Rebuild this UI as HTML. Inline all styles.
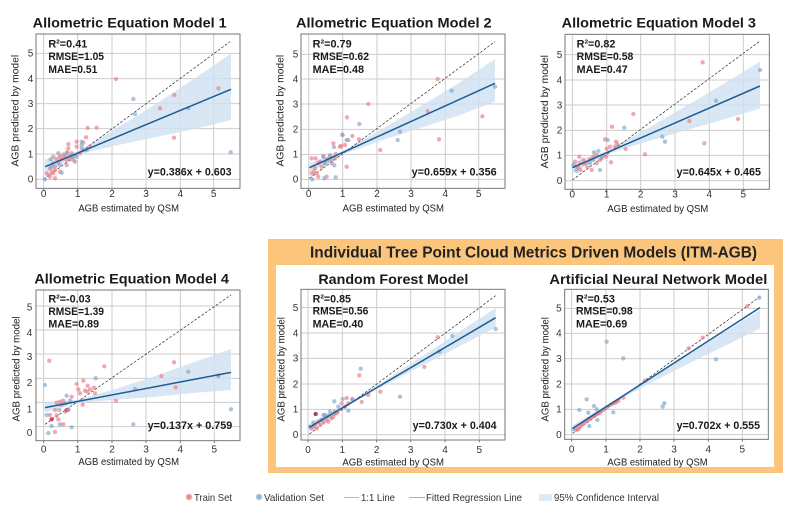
<!DOCTYPE html>
<html><head><meta charset="utf-8"><style>
html,body{margin:0;padding:0;background:#fff;}
svg{display:block;}
text{font-family:"Liberation Sans",Arial,sans-serif;}
.t{font-size:42px;font-weight:bold;fill:#1a1a1a;}
.s{font-size:33px;font-weight:bold;fill:#1a1a1a;}
.k{font-size:30px;fill:#333;}
.a{font-size:29px;fill:#222;}
.g line{stroke:#cdcdcd;stroke-width:3;}
.r circle{fill:#eb7f8a;fill-opacity:.68;}
.b circle{fill:#7eaad0;fill-opacity:.68;}
.box{fill:none;stroke:#777;stroke-width:3;}
.band{fill:#cfe1f2;fill-opacity:.8;}
.one{stroke:#222;stroke-width:2;stroke-dasharray:8,5;}
.reg{stroke:#1c5d94;stroke-width:4.5;}
.tk line{stroke:#777;stroke-width:3;}
.lg{font-size:10.5px;fill:#333;}
</style></head><body>
<svg width="800" height="515" viewBox="0 0 800 515" xmlns="http://www.w3.org/2000/svg">
<rect x="0" y="0" width="800" height="515" fill="#fff"/>

<!-- orange box -->
<rect x="268" y="239" width="515" height="234" fill="#fcc57c"/>
<rect x="276" y="265" width="498" height="202" fill="#fff"/>
<text x="310" y="257.5" font-size="15.5" font-weight="bold" fill="#222" textLength="447" lengthAdjust="spacingAndGlyphs">Individual Tree Point Cloud Metrics Driven Models (ITM-AGB)</text>

<!-- ============ PANEL 1 ============ -->
<g transform="translate(0,0) scale(0.333333)">
<rect x="108" y="102" width="612" height="463" fill="#fff"/>
<g class="g">
<line x1="131" y1="102" x2="131" y2="565"/><line x1="233" y1="102" x2="233" y2="565"/><line x1="336" y1="102" x2="336" y2="565"/><line x1="438" y1="102" x2="438" y2="565"/><line x1="541" y1="102" x2="541" y2="565"/><line x1="641" y1="102" x2="641" y2="565"/>
<line x1="108" y1="538" x2="720" y2="538"/><line x1="108" y1="462" x2="720" y2="462"/><line x1="108" y1="386" x2="720" y2="386"/><line x1="108" y1="311" x2="720" y2="311"/><line x1="108" y1="236" x2="720" y2="236"/><line x1="108" y1="160" x2="720" y2="160"/>
</g>
<polygon class="band" points="135,478 233,454 350,385 460,316 580,238 693,160 693,360 580,388 460,413 350,436 233,464 135,522"/>
<line class="one" x1="131" y1="538" x2="690" y2="125"/>
<g class="r">
<circle cx="348" cy="237" r="6.5"/><circle cx="523" cy="285" r="6.5"/><circle cx="480" cy="325" r="6.5"/><circle cx="655" cy="265" r="6.5"/><circle cx="522" cy="413" r="6.5"/><circle cx="263" cy="384" r="6.5"/><circle cx="290" cy="383" r="6.5"/><circle cx="258" cy="412" r="6.5"/><circle cx="230" cy="425" r="6.5"/><circle cx="250" cy="428" r="6.5"/><circle cx="230" cy="440" r="6.5"/><circle cx="205" cy="432" r="6.5"/><circle cx="240" cy="460" r="6.5"/><circle cx="202" cy="456" r="6.5"/><circle cx="190" cy="464" r="6.5"/><circle cx="180" cy="470" r="6.5"/><circle cx="160" cy="470" r="6.5"/><circle cx="170" cy="478" r="6.5"/><circle cx="150" cy="505" r="6.5"/><circle cx="155" cy="515" r="6.5"/><circle cx="160" cy="520" r="6.5"/><circle cx="165" cy="510" r="6.5"/><circle cx="145" cy="525" r="6.5"/><circle cx="150" cy="530" r="6.5"/><circle cx="165" cy="535" r="6.5"/><circle cx="140" cy="520" r="6.5"/><circle cx="175" cy="488" r="6.5"/><circle cx="185" cy="478" r="6.5"/><circle cx="200" cy="495" r="6.5"/><circle cx="210" cy="478" r="6.5"/><circle cx="220" cy="470" r="6.5"/><circle cx="215" cy="460" r="6.5"/><circle cx="225" cy="485" r="6.5"/><circle cx="180" cy="515" r="6.5"/><circle cx="165" cy="500" r="6.5"/><circle cx="195" cy="470" r="6.5"/><circle cx="205" cy="445" r="6.5"/><circle cx="200" cy="480" r="6.5"/><circle cx="270" cy="440" r="6.5"/><circle cx="245" cy="445" r="6.5"/>
</g>
<g class="b">
<circle cx="400" cy="297" r="6.5"/><circle cx="405" cy="342" r="6.5"/><circle cx="565" cy="325" r="6.5"/><circle cx="692" cy="457" r="6.5"/><circle cx="175" cy="460" r="6.5"/><circle cx="152" cy="478" r="6.5"/><circle cx="245" cy="435" r="6.5"/><circle cx="250" cy="450" r="6.5"/><circle cx="230" cy="470" r="6.5"/><circle cx="220" cy="480" r="6.5"/><circle cx="180" cy="495" r="6.5"/><circle cx="185" cy="518" r="6.5"/><circle cx="135" cy="538" r="6.5"/><circle cx="155" cy="500" r="6.5"/><circle cx="160" cy="490" r="6.5"/><circle cx="200" cy="460" r="6.5"/><circle cx="210" cy="468" r="6.5"/><circle cx="260" cy="450" r="6.5"/><circle cx="245" cy="425" r="6.5"/>
</g>
<line class="reg" x1="135" y1="500" x2="693" y2="268"/>
<rect class="box" x="108" y="102" width="612" height="463"/>
<g class="tk"><line x1="131" y1="565" x2="131" y2="572"/><line x1="233" y1="565" x2="233" y2="572"/><line x1="336" y1="565" x2="336" y2="572"/><line x1="438" y1="565" x2="438" y2="572"/><line x1="541" y1="565" x2="541" y2="572"/><line x1="641" y1="565" x2="641" y2="572"/></g>
<text class="t" x="98" y="83" textLength="582" lengthAdjust="spacingAndGlyphs">Allometric Equation Model 1</text>
<text class="s" x="145" y="142" textLength="117" lengthAdjust="spacingAndGlyphs">R²=0.41</text>
<text class="s" x="145" y="180" textLength="167" lengthAdjust="spacingAndGlyphs">RMSE=1.05</text>
<text class="s" x="145" y="219" textLength="147" lengthAdjust="spacingAndGlyphs">MAE=0.51</text>
<text class="s" x="443" y="527" textLength="252" lengthAdjust="spacingAndGlyphs">y=0.386x + 0.603</text>
<g class="k" text-anchor="middle"><text x="131" y="591">0</text><text x="233" y="591">1</text><text x="336" y="591">2</text><text x="438" y="591">3</text><text x="541" y="591">4</text><text x="641" y="591">5</text></g>
<g class="k" text-anchor="end"><text x="100" y="548">0</text><text x="100" y="472">1</text><text x="100" y="396">2</text><text x="100" y="321">3</text><text x="100" y="246">4</text><text x="100" y="170">5</text></g>
<text class="a" x="235" y="635" textLength="302" lengthAdjust="spacingAndGlyphs">AGB estimated by QSM</text>
<text class="a" x="56" y="332" text-anchor="middle" transform="rotate(-90 56 332)" textLength="335" lengthAdjust="spacingAndGlyphs">AGB predicted by model</text>
</g>

<!-- ============ PANEL 2 ============ -->
<g transform="translate(265,0) scale(0.333333)">
<rect x="108" y="102" width="612" height="463" fill="#fff"/>
<g class="g">
<line x1="131" y1="102" x2="131" y2="565"/><line x1="233" y1="102" x2="233" y2="565"/><line x1="336" y1="102" x2="336" y2="565"/><line x1="438" y1="102" x2="438" y2="565"/><line x1="541" y1="102" x2="541" y2="565"/><line x1="641" y1="102" x2="641" y2="565"/>
<line x1="108" y1="538" x2="720" y2="538"/><line x1="108" y1="463" x2="720" y2="463"/><line x1="108" y1="388" x2="720" y2="388"/><line x1="108" y1="312" x2="720" y2="312"/><line x1="108" y1="237" x2="720" y2="237"/><line x1="108" y1="163" x2="720" y2="163"/>
</g>
<polygon class="band" points="133,489 233,453 350,388 460,323 580,250 690,177 690,305 580,347 460,386 350,421 233,463 133,517"/>
<line class="one" x1="133" y1="535" x2="690" y2="125"/>
<g class="r">
<circle cx="518" cy="237" r="6.5"/><circle cx="310" cy="312" r="6.5"/><circle cx="246" cy="352" r="6.5"/><circle cx="488" cy="334" r="6.5"/><circle cx="522" cy="418" r="6.5"/><circle cx="652" cy="349" r="6.5"/><circle cx="346" cy="450" r="6.5"/><circle cx="232" cy="404" r="6.5"/><circle cx="262" cy="408" r="6.5"/><circle cx="282" cy="418" r="6.5"/><circle cx="245" cy="420" r="6.5"/><circle cx="240" cy="435" r="6.5"/><circle cx="228" cy="438" r="6.5"/><circle cx="205" cy="430" r="6.5"/><circle cx="212" cy="462" r="6.5"/><circle cx="195" cy="470" r="6.5"/><circle cx="185" cy="478" r="6.5"/><circle cx="175" cy="468" r="6.5"/><circle cx="160" cy="490" r="6.5"/><circle cx="150" cy="505" r="6.5"/><circle cx="147" cy="515" r="6.5"/><circle cx="155" cy="520" r="6.5"/><circle cx="140" cy="475" r="6.5"/><circle cx="152" cy="475" r="6.5"/><circle cx="165" cy="485" r="6.5"/><circle cx="170" cy="500" r="6.5"/><circle cx="160" cy="530" r="6.5"/><circle cx="185" cy="530" r="6.5"/><circle cx="245" cy="500" r="6.5"/><circle cx="140" cy="520" r="6.5"/><circle cx="200" cy="490" r="6.5"/><circle cx="210" cy="475" r="6.5"/><circle cx="180" cy="490" r="6.5"/><circle cx="225" cy="440" r="6.5"/>
</g>
<g class="b">
<circle cx="283" cy="372" r="6.5"/><circle cx="560" cy="272" r="6.5"/><circle cx="690" cy="260" r="6.5"/><circle cx="405" cy="395" r="6.5"/><circle cx="398" cy="420" r="6.5"/><circle cx="233" cy="405" r="6.5"/><circle cx="207" cy="441" r="6.5"/><circle cx="195" cy="465" r="6.5"/><circle cx="208" cy="496" r="6.5"/><circle cx="212" cy="532" r="6.5"/><circle cx="178" cy="535" r="6.5"/><circle cx="142" cy="538" r="6.5"/><circle cx="175" cy="470" r="6.5"/><circle cx="180" cy="490" r="6.5"/><circle cx="190" cy="482" r="6.5"/><circle cx="200" cy="480" r="6.5"/><circle cx="250" cy="420" r="6.5"/>
</g>
<line class="reg" x1="133" y1="503" x2="690" y2="250"/>
<rect class="box" x="108" y="102" width="612" height="463"/>
<g class="tk"><line x1="131" y1="565" x2="131" y2="572"/><line x1="233" y1="565" x2="233" y2="572"/><line x1="336" y1="565" x2="336" y2="572"/><line x1="438" y1="565" x2="438" y2="572"/><line x1="541" y1="565" x2="541" y2="572"/><line x1="641" y1="565" x2="641" y2="572"/></g>
<text class="t" x="93" y="83" textLength="587" lengthAdjust="spacingAndGlyphs">Allometric Equation Model 2</text>
<text class="s" x="143" y="142" textLength="117" lengthAdjust="spacingAndGlyphs">R²=0.79</text>
<text class="s" x="143" y="180" textLength="169" lengthAdjust="spacingAndGlyphs">RMSE=0.62</text>
<text class="s" x="143" y="219" textLength="154" lengthAdjust="spacingAndGlyphs">MAE=0.48</text>
<text class="s" x="440" y="527" textLength="255" lengthAdjust="spacingAndGlyphs">y=0.659x + 0.356</text>
<g class="k" text-anchor="middle"><text x="131" y="591">0</text><text x="233" y="591">1</text><text x="336" y="591">2</text><text x="438" y="591">3</text><text x="541" y="591">4</text><text x="641" y="591">5</text></g>
<g class="k" text-anchor="end"><text x="100" y="548">0</text><text x="100" y="473">1</text><text x="100" y="398">2</text><text x="100" y="322">3</text><text x="100" y="247">4</text><text x="100" y="173">5</text></g>
<text class="a" x="233" y="635" textLength="304" lengthAdjust="spacingAndGlyphs">AGB estimated by QSM</text>
<text class="a" x="56" y="332" text-anchor="middle" transform="rotate(-90 56 332)" textLength="335" lengthAdjust="spacingAndGlyphs">AGB predicted by model</text>
</g>

<!-- ============ PANEL 3 ============ -->
<g transform="translate(530,0) scale(0.333333)">
<rect x="105" y="103" width="613" height="465" fill="#fff"/>
<g class="g">
<line x1="127" y1="103" x2="127" y2="568"/><line x1="230" y1="103" x2="230" y2="568"/><line x1="332" y1="103" x2="332" y2="568"/><line x1="435" y1="103" x2="435" y2="568"/><line x1="538" y1="103" x2="538" y2="568"/><line x1="640" y1="103" x2="640" y2="568"/>
<line x1="105" y1="542" x2="718" y2="542"/><line x1="105" y1="466" x2="718" y2="466"/><line x1="105" y1="391" x2="718" y2="391"/><line x1="105" y1="315" x2="718" y2="315"/><line x1="105" y1="240" x2="718" y2="240"/><line x1="105" y1="164" x2="718" y2="164"/>
</g>
<polygon class="band" points="127,487 230,453 350,387 460,323 580,252 690,185 690,326 580,359 460,393 350,425 230,463 127,520"/>
<line class="one" x1="127" y1="540" x2="690" y2="123"/>
<g class="r">
<circle cx="518" cy="187" r="6.5"/><circle cx="310" cy="342" r="6.5"/><circle cx="246" cy="380" r="6.5"/><circle cx="624" cy="357" r="6.5"/><circle cx="478" cy="363" r="6.5"/><circle cx="523" cy="430" r="6.5"/><circle cx="345" cy="463" r="6.5"/><circle cx="243" cy="487" r="6.5"/><circle cx="287" cy="447" r="6.5"/><circle cx="262" cy="432" r="6.5"/><circle cx="258" cy="425" r="6.5"/><circle cx="255" cy="440" r="6.5"/><circle cx="240" cy="440" r="6.5"/><circle cx="225" cy="418" r="6.5"/><circle cx="230" cy="446" r="6.5"/><circle cx="228" cy="470" r="6.5"/><circle cx="210" cy="480" r="6.5"/><circle cx="200" cy="465" r="6.5"/><circle cx="190" cy="470" r="6.5"/><circle cx="180" cy="478" r="6.5"/><circle cx="168" cy="488" r="6.5"/><circle cx="160" cy="480" r="6.5"/><circle cx="150" cy="490" r="6.5"/><circle cx="145" cy="503" r="6.5"/><circle cx="152" cy="510" r="6.5"/><circle cx="140" cy="500" r="6.5"/><circle cx="135" cy="485" r="6.5"/><circle cx="148" cy="470" r="6.5"/><circle cx="172" cy="502" r="6.5"/><circle cx="185" cy="510" r="6.5"/><circle cx="200" cy="490" r="6.5"/><circle cx="218" cy="468" r="6.5"/><circle cx="162" cy="492" r="6.5"/>
</g>
<g class="b">
<circle cx="690" cy="210" r="6.5"/><circle cx="558" cy="302" r="6.5"/><circle cx="397" cy="410" r="6.5"/><circle cx="405" cy="425" r="6.5"/><circle cx="283" cy="383" r="6.5"/><circle cx="233" cy="420" r="6.5"/><circle cx="205" cy="453" r="6.5"/><circle cx="210" cy="510" r="6.5"/><circle cx="192" cy="457" r="6.5"/><circle cx="140" cy="512" r="6.5"/><circle cx="130" cy="495" r="6.5"/><circle cx="180" cy="490" r="6.5"/><circle cx="190" cy="480" r="6.5"/><circle cx="215" cy="475" r="6.5"/>
</g>
<line class="reg" x1="127" y1="503" x2="690" y2="258"/>
<rect class="box" x="105" y="103" width="613" height="465"/>
<g class="tk"><line x1="127" y1="568" x2="127" y2="575"/><line x1="230" y1="568" x2="230" y2="575"/><line x1="332" y1="568" x2="332" y2="575"/><line x1="435" y1="568" x2="435" y2="575"/><line x1="538" y1="568" x2="538" y2="575"/><line x1="640" y1="568" x2="640" y2="575"/></g>
<text class="t" x="95" y="83" textLength="583" lengthAdjust="spacingAndGlyphs">Allometric Equation Model 3</text>
<text class="s" x="140" y="142" textLength="116" lengthAdjust="spacingAndGlyphs">R²=0.82</text>
<text class="s" x="140" y="180" textLength="170" lengthAdjust="spacingAndGlyphs">RMSE=0.58</text>
<text class="s" x="140" y="219" textLength="153" lengthAdjust="spacingAndGlyphs">MAE=0.47</text>
<text class="s" x="440" y="527" textLength="253" lengthAdjust="spacingAndGlyphs">y=0.645x + 0.465</text>
<g class="k" text-anchor="middle"><text x="127" y="593">0</text><text x="230" y="593">1</text><text x="332" y="593">2</text><text x="435" y="593">3</text><text x="538" y="593">4</text><text x="640" y="593">5</text></g>
<g class="k" text-anchor="end"><text x="97" y="552">0</text><text x="97" y="476">1</text><text x="97" y="401">2</text><text x="97" y="325">3</text><text x="97" y="250">4</text><text x="97" y="174">5</text></g>
<text class="a" x="232" y="636" textLength="303" lengthAdjust="spacingAndGlyphs">AGB estimated by QSM</text>
<text class="a" x="54" y="335" text-anchor="middle" transform="rotate(-90 54 335)" textLength="340" lengthAdjust="spacingAndGlyphs">AGB predicted by model</text>
</g>

<!-- ============ PANEL 4 ============ -->
<g transform="translate(0,230) scale(0.333333)">
<rect x="108" y="180" width="612" height="452" fill="#fff"/>
<g class="g">
<line x1="131" y1="180" x2="131" y2="632"/><line x1="233" y1="180" x2="233" y2="632"/><line x1="336" y1="180" x2="336" y2="632"/><line x1="438" y1="180" x2="438" y2="632"/><line x1="541" y1="180" x2="541" y2="632"/><line x1="643" y1="180" x2="643" y2="632"/>
<line x1="108" y1="590" x2="720" y2="590"/><line x1="108" y1="517" x2="720" y2="517"/><line x1="108" y1="445" x2="720" y2="445"/><line x1="108" y1="372" x2="720" y2="372"/><line x1="108" y1="300" x2="720" y2="300"/><line x1="108" y1="228" x2="720" y2="228"/>
</g>
<polygon class="band" points="135,519 233,509 350,476 460,440 580,397 693,357 693,480 580,489 460,501 350,509 233,519 135,547"/>
<line class="one" x1="135" y1="583" x2="693" y2="195"/>
<g class="r">
<circle cx="148" cy="392" r="6.5"/><circle cx="313" cy="409" r="6.5"/><circle cx="522" cy="397" r="6.5"/><circle cx="484" cy="438" r="6.5"/><circle cx="527" cy="472" r="6.5"/><circle cx="655" cy="437" r="6.5"/><circle cx="348" cy="512" r="6.5"/><circle cx="230" cy="462" r="6.5"/><circle cx="263" cy="467" r="6.5"/><circle cx="250" cy="452" r="6.5"/><circle cx="282" cy="473" r="6.5"/><circle cx="235" cy="478" r="6.5"/><circle cx="240" cy="490" r="6.5"/><circle cx="262" cy="485" r="6.5"/><circle cx="285" cy="490" r="6.5"/><circle cx="248" cy="524" r="6.5"/><circle cx="205" cy="538" r="6.5"/><circle cx="196" cy="545" r="6.5"/><circle cx="180" cy="515" r="6.5"/><circle cx="190" cy="512" r="6.5"/><circle cx="170" cy="518" r="6.5"/><circle cx="185" cy="525" r="6.5"/><circle cx="165" cy="540" r="6.5"/><circle cx="170" cy="556" r="6.5"/><circle cx="150" cy="555" r="6.5"/><circle cx="155" cy="568" r="6.5" style="fill:#d42a45;fill-opacity:.85"/><circle cx="165" cy="606" r="6.5"/><circle cx="190" cy="583" r="6.5"/><circle cx="175" cy="568" r="6.5"/><circle cx="215" cy="500" r="6.5"/><circle cx="255" cy="482" r="6.5"/><circle cx="270" cy="478" r="6.5"/><circle cx="200" cy="540" r="6.5" style="fill:#d42a45;fill-opacity:.75"/>
</g>
<g class="b">
<circle cx="287" cy="445" r="6.5"/><circle cx="405" cy="477" r="6.5"/><circle cx="565" cy="425" r="6.5"/><circle cx="693" cy="538" r="6.5"/><circle cx="135" cy="465" r="6.5"/><circle cx="400" cy="583" r="6.5"/><circle cx="145" cy="609" r="6.5"/><circle cx="155" cy="588" r="6.5"/><circle cx="215" cy="592" r="6.5"/><circle cx="180" cy="583" r="6.5"/><circle cx="200" cy="497" r="6.5"/><circle cx="210" cy="512" r="6.5"/><circle cx="195" cy="520" r="6.5"/><circle cx="178" cy="540" r="6.5"/><circle cx="140" cy="555" r="6.5"/><circle cx="205" cy="540" r="6.5"/><circle cx="655" cy="437" r="6.5"/>
</g>
<line class="reg" x1="135" y1="533" x2="693" y2="427"/>
<rect class="box" x="108" y="180" width="612" height="452"/>
<g class="tk"><line x1="131" y1="632" x2="131" y2="639"/><line x1="233" y1="632" x2="233" y2="639"/><line x1="336" y1="632" x2="336" y2="639"/><line x1="438" y1="632" x2="438" y2="639"/><line x1="541" y1="632" x2="541" y2="639"/><line x1="643" y1="632" x2="643" y2="639"/></g>
<text class="t" x="103" y="161" textLength="584" lengthAdjust="spacingAndGlyphs">Allometric Equation Model 4</text>
<text class="s" x="145" y="217" textLength="127" lengthAdjust="spacingAndGlyphs">R²=-0.03</text>
<text class="s" x="145" y="255" textLength="167" lengthAdjust="spacingAndGlyphs">RMSE=1.39</text>
<text class="s" x="145" y="292" textLength="152" lengthAdjust="spacingAndGlyphs">MAE=0.89</text>
<text class="s" x="443" y="597" textLength="254" lengthAdjust="spacingAndGlyphs">y=0.137x + 0.759</text>
<g class="k" text-anchor="middle"><text x="131" y="668">0</text><text x="233" y="668">1</text><text x="336" y="668">2</text><text x="438" y="668">3</text><text x="541" y="668">4</text><text x="643" y="668">5</text></g>
<g class="k" text-anchor="end"><text x="97" y="618">0</text><text x="97" y="547">1</text><text x="97" y="468">2</text><text x="97" y="390">3</text><text x="97" y="318">4</text><text x="97" y="242">5</text></g>
<text class="a" x="235" y="705" textLength="302" lengthAdjust="spacingAndGlyphs">AGB estimated by QSM</text>
<text class="a" x="58" y="417" text-anchor="middle" transform="rotate(-90 58 417)" textLength="315" lengthAdjust="spacingAndGlyphs">AGB predicted by model</text>
</g>

<!-- ============ PANEL 5 ============ -->
<g transform="translate(265,230) scale(0.333333)">
<rect x="108" y="178" width="612" height="452" fill="#fff"/>
<g class="g">
<line x1="129" y1="178" x2="129" y2="630"/><line x1="232" y1="178" x2="232" y2="630"/><line x1="335" y1="178" x2="335" y2="630"/><line x1="437" y1="178" x2="437" y2="630"/><line x1="540" y1="178" x2="540" y2="630"/><line x1="643" y1="178" x2="643" y2="630"/>
<line x1="108" y1="614" x2="720" y2="614"/><line x1="108" y1="538" x2="720" y2="538"/><line x1="108" y1="462" x2="720" y2="462"/><line x1="108" y1="385" x2="720" y2="385"/><line x1="108" y1="309" x2="720" y2="309"/><line x1="108" y1="233" x2="720" y2="233"/>
</g>
<polygon class="band" points="133,581 280,501.5 400,425.5 500,360 600,294 692,234 692,292 600,340 500,392 400,444 280,509.5 133,603"/>
<line class="one" x1="133" y1="612" x2="692" y2="197"/>
<g class="r">
<circle cx="518" cy="322" r="6.5"/><circle cx="283" cy="436" r="6.5"/><circle cx="478" cy="411" r="6.5"/><circle cx="346" cy="485" r="6.5"/><circle cx="290" cy="516" r="6.5"/><circle cx="245" cy="504" r="6.5"/><circle cx="262" cy="507" r="6.5"/><circle cx="230" cy="520" r="6.5"/><circle cx="240" cy="530" r="6.5"/><circle cx="210" cy="545" r="6.5"/><circle cx="205" cy="560" r="6.5"/><circle cx="190" cy="558" r="6.5"/><circle cx="180" cy="560" r="6.5"/><circle cx="170" cy="570" r="6.5"/><circle cx="160" cy="575" r="6.5"/><circle cx="150" cy="585" r="6.5"/><circle cx="145" cy="590" r="6.5"/><circle cx="140" cy="595" r="6.5"/><circle cx="155" cy="595" r="6.5"/><circle cx="165" cy="585" r="6.5"/><circle cx="185" cy="570" r="6.5"/><circle cx="200" cy="565" r="6.5"/><circle cx="215" cy="550" r="6.5"/><circle cx="250" cy="520" r="6.5"/><circle cx="310" cy="495" r="6.5"/><circle cx="152" cy="552" r="6.5" style="fill:#9a2040;fill-opacity:.85"/><circle cx="175" cy="578" r="6.5"/><circle cx="190" cy="575" r="6.5"/>
</g>
<g class="b">
<circle cx="692" cy="297" r="6.5"/><circle cx="562" cy="318" r="6.5"/><circle cx="287" cy="416" r="6.5"/><circle cx="405" cy="500" r="6.5"/><circle cx="523" cy="365" r="6.5"/><circle cx="233" cy="507" r="6.5"/><circle cx="208" cy="514" r="6.5"/><circle cx="195" cy="545" r="6.5"/><circle cx="180" cy="555" r="6.5"/><circle cx="170" cy="570" r="6.5"/><circle cx="135" cy="590" r="6.5"/><circle cx="145" cy="578" r="6.5"/><circle cx="175" cy="555" r="6.5"/><circle cx="250" cy="542" r="6.5"/><circle cx="262" cy="508" r="6.5"/><circle cx="220" cy="530" r="6.5"/>
</g>
<line class="reg" x1="133" y1="592" x2="692" y2="263"/>
<rect class="box" x="108" y="178" width="612" height="452"/>
<g class="tk"><line x1="129" y1="630" x2="129" y2="637"/><line x1="232" y1="630" x2="232" y2="637"/><line x1="335" y1="630" x2="335" y2="637"/><line x1="437" y1="630" x2="437" y2="637"/><line x1="540" y1="630" x2="540" y2="637"/><line x1="643" y1="630" x2="643" y2="637"/></g>
<text class="t" x="160" y="162" textLength="450" lengthAdjust="spacingAndGlyphs">Random Forest Model</text>
<text class="s" x="143" y="217" textLength="115" lengthAdjust="spacingAndGlyphs">R²=0.85</text>
<text class="s" x="143" y="254" textLength="167" lengthAdjust="spacingAndGlyphs">RMSE=0.56</text>
<text class="s" x="143" y="292" textLength="152" lengthAdjust="spacingAndGlyphs">MAE=0.40</text>
<text class="s" x="443" y="597" textLength="252" lengthAdjust="spacingAndGlyphs">y=0.730x + 0.404</text>
<g class="k" text-anchor="middle"><text x="129" y="669">0</text><text x="232" y="669">1</text><text x="335" y="669">2</text><text x="437" y="669">3</text><text x="540" y="669">4</text><text x="643" y="669">5</text></g>
<g class="k" text-anchor="end"><text x="100" y="624">0</text><text x="100" y="548">1</text><text x="100" y="472">2</text><text x="100" y="395">3</text><text x="100" y="319">4</text><text x="100" y="243">5</text></g>
<text class="a" x="232" y="707" textLength="305" lengthAdjust="spacingAndGlyphs">AGB estimated by QSM</text>
<text class="a" x="58" y="418" text-anchor="middle" transform="rotate(-90 58 418)" textLength="313" lengthAdjust="spacingAndGlyphs">AGB predicted by model</text>
</g>

<!-- ============ PANEL 6 ============ -->
<g transform="translate(530,230) scale(0.333333)">
<rect x="104" y="178" width="611" height="450" fill="#fff"/>
<g class="g">
<line x1="125" y1="178" x2="125" y2="628"/><line x1="228" y1="178" x2="228" y2="628"/><line x1="330" y1="178" x2="330" y2="628"/><line x1="432" y1="178" x2="432" y2="628"/><line x1="535" y1="178" x2="535" y2="628"/><line x1="637" y1="178" x2="637" y2="628"/>
<line x1="104" y1="614" x2="715" y2="614"/><line x1="104" y1="538" x2="715" y2="538"/><line x1="104" y1="462" x2="715" y2="462"/><line x1="104" y1="386" x2="715" y2="386"/><line x1="104" y1="310" x2="715" y2="310"/><line x1="104" y1="235" x2="715" y2="235"/>
</g>
<polygon class="band" points="128,586 280,495 400,421 500,359 600,296 690,240 690,296 600,340 500,389 400,439 280,503 128,604"/>
<line class="one" x1="128" y1="610" x2="690" y2="200"/>
<g class="r">
<circle cx="652" cy="228" r="6.5"/><circle cx="518" cy="323" r="6.5"/><circle cx="476" cy="355" r="6.5"/><circle cx="345" cy="452" r="6.5"/><circle cx="280" cy="503" r="6.5"/><circle cx="265" cy="512" r="6.5"/><circle cx="255" cy="518" r="6.5"/><circle cx="243" cy="524" r="6.5"/><circle cx="230" cy="532" r="6.5"/><circle cx="220" cy="540" r="6.5"/><circle cx="210" cy="548" r="6.5"/><circle cx="200" cy="553" r="6.5"/><circle cx="190" cy="558" r="6.5"/><circle cx="180" cy="565" r="6.5"/><circle cx="170" cy="572" r="6.5"/><circle cx="160" cy="580" r="6.5"/><circle cx="150" cy="590" r="6.5"/><circle cx="142" cy="596" r="6.5"/><circle cx="138" cy="600" r="6.5"/><circle cx="145" cy="598" r="6.5"/><circle cx="155" cy="585" r="6.5"/><circle cx="165" cy="576" r="6.5"/><circle cx="175" cy="568" r="6.5"/><circle cx="185" cy="562" r="6.5"/><circle cx="195" cy="555" r="6.5"/><circle cx="205" cy="550" r="6.5"/><circle cx="250" cy="520" r="6.5"/><circle cx="260" cy="515" r="6.5"/>
</g>
<g class="b">
<circle cx="688" cy="203" r="6.5"/><circle cx="558" cy="388" r="6.5"/><circle cx="230" cy="335" r="6.5"/><circle cx="280" cy="385" r="6.5"/><circle cx="170" cy="508" r="6.5"/><circle cx="148" cy="540" r="6.5"/><circle cx="175" cy="548" r="6.5"/><circle cx="192" cy="528" r="6.5"/><circle cx="200" cy="538" r="6.5"/><circle cx="202" cy="570" r="6.5"/><circle cx="178" cy="588" r="6.5"/><circle cx="130" cy="597" r="6.5"/><circle cx="250" cy="547" r="6.5"/><circle cx="398" cy="530" r="6.5"/><circle cx="403" cy="520" r="6.5"/>
</g>
<line class="reg" x1="128" y1="595" x2="690" y2="233"/>
<rect class="box" x="104" y="178" width="611" height="450"/>
<g class="tk"><line x1="125" y1="628" x2="125" y2="635"/><line x1="228" y1="628" x2="228" y2="635"/><line x1="330" y1="628" x2="330" y2="635"/><line x1="432" y1="628" x2="432" y2="635"/><line x1="535" y1="628" x2="535" y2="635"/><line x1="637" y1="628" x2="637" y2="635"/></g>
<text class="t" x="58" y="162" textLength="654" lengthAdjust="spacingAndGlyphs">Artificial Neural Network Model</text>
<text class="s" x="138" y="217" textLength="117" lengthAdjust="spacingAndGlyphs">R²=0.53</text>
<text class="s" x="138" y="254" textLength="170" lengthAdjust="spacingAndGlyphs">RMSE=0.98</text>
<text class="s" x="138" y="292" textLength="154" lengthAdjust="spacingAndGlyphs">MAE=0.69</text>
<text class="s" x="440" y="597" textLength="250" lengthAdjust="spacingAndGlyphs">y=0.702x + 0.555</text>
<g class="k" text-anchor="middle"><text x="125" y="667">0</text><text x="228" y="667">1</text><text x="330" y="667">2</text><text x="432" y="667">3</text><text x="535" y="667">4</text><text x="637" y="667">5</text></g>
<g class="k" text-anchor="end"><text x="95" y="624">0</text><text x="95" y="548">1</text><text x="95" y="472">2</text><text x="95" y="396">3</text><text x="95" y="320">4</text><text x="95" y="245">5</text></g>
<text class="a" x="232" y="707" textLength="301" lengthAdjust="spacingAndGlyphs">AGB estimated by QSM</text>
<text class="a" x="56" y="418" text-anchor="middle" transform="rotate(-90 56 418)" textLength="313" lengthAdjust="spacingAndGlyphs">AGB predicted by model</text>
</g>

<!-- ============ LEGEND ============ -->
<circle cx="189" cy="497" r="3" fill="#ec8d95" stroke="#f6c2c6" stroke-width="0.8"/>
<text class="lg" x="194" y="501" textLength="38" lengthAdjust="spacingAndGlyphs">Train Set</text>
<circle cx="259" cy="497" r="3" fill="#94b8d8" stroke="#c8dbec" stroke-width="0.8"/>
<text class="lg" x="264" y="501" textLength="60" lengthAdjust="spacingAndGlyphs">Validation Set</text>
<line x1="344" y1="497.5" x2="359" y2="497.5" stroke="#bcbcbc" stroke-width="1"/>
<text class="lg" x="361" y="501" textLength="34" lengthAdjust="spacingAndGlyphs">1:1 Line</text>
<line x1="409" y1="497.5" x2="425" y2="497.5" stroke="#8fb3d3" stroke-width="1"/>
<text class="lg" x="426" y="501" textLength="96" lengthAdjust="spacingAndGlyphs">Fitted Regression Line</text>
<rect x="539" y="494" width="13" height="7" fill="#dde9f4"/>
<text class="lg" x="554" y="501" textLength="105" lengthAdjust="spacingAndGlyphs">95% Confidence Interval</text>
</svg>
</body></html>
